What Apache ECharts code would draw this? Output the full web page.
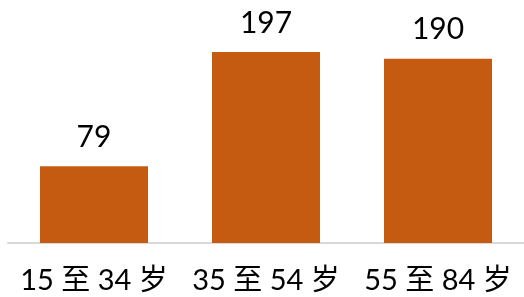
<!DOCTYPE html>
<html>
<head>
<meta charset="utf-8">
<script src="https://cdn.jsdelivr.net/npm/echarts@6/dist/echarts.min.js"></script>
<style>
html,body{margin:0;padding:0;background:#fff;}
#chart{width:524px;height:297px;}
</style>
</head>
<body>
<div id="chart"></div>
<script>
// 年龄段 / 人数
const categories = ['15 至 34 岁', '35 至 54 岁', '55 至 84 岁']
const values = [79, 197, 190]

let chart = echarts.init(document.getElementById('chart'))
chart.setOption({
    animation: false,
    grid: { left: 8, right: -5, top: 49, bottom: 54 },
    xAxis: {
        type: 'category',
        data: categories,
        axisTick: { show: false },
        axisLine: { lineStyle: { color: '#d9d9d9', width: 2 } },
        axisLabel: {
            color: '#000',
            fontSize: 29,
            fontFamily: 'Lato, "Noto Sans CJK SC", sans-serif',
            margin: 23,
            interval: 0
        }
    },
    yAxis: {
        type: 'value',
        min: 0,
        max: 200,
        show: false
    },
    series: [{
        type: 'bar',
        data: values,
        barWidth: 108,
        itemStyle: { color: '#c55a11' },
        label: {
            show: true,
            position: 'top',
            distance: 14,
            color: '#000',
            fontSize: 30,
            fontFamily: 'Lato, sans-serif'
        }
    }]
})
</script>
</body>
</html>
